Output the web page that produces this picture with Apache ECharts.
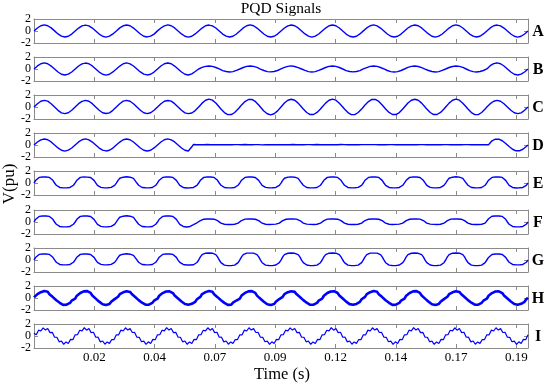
<!DOCTYPE html>
<html><head><meta charset="utf-8">
<script src="https://cdn.jsdelivr.net/npm/echarts@6/dist/echarts.min.js"></script>
<style>html,body{margin:0;padding:0;background:#fff}#c{width:550px;height:390px}</style>
</head><body><div id="c"></div><script>
const panelNames = ['A','B','C','D','E','F','G','H','I'];
const xTickLabels = ['0.02','0.04','0.07','0.09','0.12','0.14','0.17','0.19'];
const yTickValues = [-2, 0, 2];
const T_END = 0.2;
const X_TICK_STEP = 250 / 10240;

const seriesA = [
0,.28,.5,.69,.88,.96,1.02,.95,.88,.7,.52,.25,.02,-.27,-.49,-.72,-.86,-.98,-1,-.96,-.88,-.7,-.51,-.25,
.01,.27,.49,.72,.86,.98,.99,.98,.86,.72,.49,.27,-.01,-.25,-.51,-.7,-.88,-.96,-1.02,-.97,-.86,-.72,-.49,-.27,
0,.25,.52,.7,.87,.99,1,.96,.88,.71,.49,.27,0,-.27,-.5,-.71,-.88,-.97,-.99,-.98,-.86,-.7,-.52,-.25,
.02,.26,.5,.72,.86,.97,1.01,.97,.87,.7,.51,.25,-.01,-.26,-.49,-.72,-.87,-.96,-1.01,-.97,-.87,-.71,-.49,-.27,
0,.27,.49,.71,.88,.97,.99,.98,.86,.72,.5,.26,.01,-.25,-.51,-.7,-.86,-.98,-1,-.96,-.88,-.72,-.5,-.26,
-.01,.26,.51,.7,.87,.96,1.02,.97,.87,.71,.49,.27,0,-.27,-.5,-.71,-.88,-.97,-.99,-.98,-.87,-.7,-.51,-.25,
.01,.25,.5,.72,.86,.98,1,.96,.88,.7,.51,.25,.01,-.26,-.49,-.72,-.86,-.97,-1.01,-.97,-.86,-.71,-.5,-.27,
0,.27,.49,.71,.87,.97,.99,.98,.87,.72,.5,.26,-.01,-.25,-.51,-.7,-.87,-.96,-1,-.98,-.88,-.7,-.49,-.26,
.02,.26,.51,.7,.88,.96,1.01,.97,.86,.71,.49,.27,0,-.27,-.5,-.72,-.87,-.98,-.99,-.97,-.87,-.72,-.51,-.25,
0,.25,.5,.71,.86,.98,1,.96,.88,.7,.51,.26,.01,-.26,-.49,-.71,-.88,-.97,-1.02,-.96,-.86,-.71,-.5,-.27,
-.01,.27,.49,.72,.87,.97,1.01,.97,.87,.71,.5,.25,0,-.25,-.51,-.7,-.86,-.97,-1,-.98,-.88,-.7,-.49,-.26,
.01,.26,.51,.7,.88,.96,.99,.98,.86,.72,.49,.26,-.01,-.27,-.5,-.72,-.87,-.96,-1.01,-.97,-.87,-.71,-.5,-.25,
0];

const seriesB = [
0,.27,.51,.7,.88,.97,1.01,.96,.87,.72,.49,.26,.01,-.27,-.5,-.7,-.88,-.97,-1,-.97,-.86,-.72,-.5,-.25,
.01,.25,.5,.72,.86,.98,.99,.97,.88,.7,.51,.27,0,-.25,-.51,-.71,-.87,-.96,-1.01,-.98,-.87,-.7,-.49,-.27,
-.01,.26,.49,.71,.87,.96,1.02,.98,.86,.71,.5,.25,.01,-.26,-.49,-.72,-.86,-.98,-.99,-.96,-.88,-.71,-.51,-.26,
0,.27,.5,.7,.88,.97,1,.97,.87,.72,.49,.26,0,-.27,-.5,-.71,-.87,-.97,-1,-.93,-.8,-.62,-.42,-.2,
0,.15,.27,.37,.44,.49,.51,.48,.43,.36,.25,.12,.01,-.13,-.26,-.35,-.42,-.47,-.49,-.47,-.43,-.34,-.24,-.13,
0,.14,.25,.36,.44,.49,.5,.47,.43,.35,.26,.13,-.01,-.12,-.25,-.36,-.43,-.48,-.48,-.48,-.42,-.35,-.25,-.12,
.01,.13,.26,.35,.43,.48,.52,.48,.42,.35,.24,.13,0,-.13,-.24,-.35,-.43,-.47,-.5,-.47,-.43,-.36,-.24,-.13,
0,.12,.25,.36,.44,.47,.5,.49,.43,.34,.25,.14,0,-.14,-.26,-.34,-.42,-.48,-.48,-.48,-.42,-.35,-.26,-.12,
.01,.14,.24,.35,.43,.49,.51,.47,.44,.35,.25,.12,.01,-.13,-.25,-.36,-.43,-.47,-.49,-.47,-.44,-.34,-.25,-.13,
0,.13,.26,.34,.43,.48,.49,.48,.42,.36,.24,.13,-.01,-.12,-.25,-.35,-.42,-.48,-.5,-.48,-.43,-.35,-.24,-.12,
0,.13,.25,.36,.42,.48,.51,.48,.43,.34,.26,.12,0,-.13,-.26,-.34,-.43,-.47,-.49,-.47,-.42,-.36,-.25,-.13,
.01,.32,.56,.74,.89,.97,1.01,.97,.87,.71,.5,.26,0,-.26,-.5,-.71,-.87,-.97,-1,-.97,-.86,-.71,-.5,-.26,
0];

const seriesC = [
0,.3,.55,.77,.96,1.08,1.1,1.06,.97,.78,.54,.3,0,-.28,-.56,-.77,-.97,-1.06,-1.1,-1.08,-.95,-.79,-.55,-.28,
.01,.28,.56,.78,.95,1.07,1.11,1.08,.96,.77,.56,.28,-.01,-.3,-.54,-.78,-.95,-1.08,-1.09,-1.06,-.97,-.77,-.56,-.3,
0,.29,.54,.79,.97,1.06,1.1,1.07,.95,.79,.55,.29,.01,-.29,-.55,-.79,-.96,-1.07,-1.11,-1.07,-.96,-.78,-.54,-.29,
.01,.3,.55,.77,.96,1.08,1.09,1.07,.97,.78,.56,.28,0,-.28,-.55,-.78,-.97,-1.06,-1.1,-1.1,-1,-.84,-.6,-.32,
0,.33,.64,.92,1.12,1.27,1.3,1.25,1.14,.91,.66,.33,.01,-.34,-.64,-.93,-1.12,-1.27,-1.29,-1.26,-1.14,-.92,-.65,-.35,
0,.35,.65,.91,1.14,1.25,1.31,1.27,1.12,.93,.64,.34,-.01,-.33,-.66,-.91,-1.13,-1.25,-1.31,-1.27,-1.12,-.93,-.64,-.33,
.01,.34,.66,.93,1.13,1.26,1.29,1.26,1.13,.91,.65,.35,0,-.35,-.65,-.92,-1.14,-1.26,-1.3,-1.25,-1.13,-.91,-.66,-.34,
0,.33,.65,.92,1.12,1.27,1.31,1.25,1.14,.92,.64,.34,.01,-.34,-.64,-.93,-1.12,-1.27,-1.29,-1.27,-1.12,-.92,-.65,-.35,
-.01,.35,.64,.91,1.14,1.26,1.3,1.27,1.12,.93,.66,.33,0,-.33,-.66,-.91,-1.13,-1.25,-1.31,-1.26,-1.14,-.93,-.64,-.33,
.01,.34,.66,.92,1.13,1.25,1.29,1.26,1.13,.91,.65,.35,-.01,-.35,-.65,-.92,-1.14,-1.26,-1.3,-1.25,-1.13,-.91,-.66,-.34,
0,.33,.65,.93,1.12,1.27,1.31,1.26,1.14,.92,.64,.34,0,-.34,-.64,-.93,-1.12,-1.27,-1.3,-1.27,-1.12,-.92,-.65,-.35,
0,.3,.56,.79,.96,1.07,1.1,1.07,.96,.78,.55,.29,.01,-.29,-.55,-.78,-.96,-1.07,-1.1,-1.06,-.97,-.78,-.55,-.29,
0];

const seriesD = [
0,.27,.5,.71,.86,.98,1,.96,.88,.7,.51,.26,0,-.27,-.49,-.71,-.88,-.96,-1.01,-.97,-.86,-.72,-.5,-.25,
.01,.25,.51,.7,.87,.97,1.01,.98,.86,.72,.49,.27,-.01,-.25,-.51,-.7,-.86,-.98,-.99,-.96,-.88,-.7,-.51,-.27,
0,.26,.49,.72,.88,.96,.99,.97,.87,.71,.5,.25,.01,-.26,-.5,-.72,-.87,-.97,-1,-.98,-.87,-.71,-.49,-.26,
.01,.27,.5,.7,.87,.98,1.01,.96,.86,.72,.51,.26,0,-.27,-.5,-.7,-.88,-.96,-1,-.75,-.3,.08,.06,.04,
.07,.04,.06,.05,.03,.08,.05,.04,.07,.06,.03,.05,.06,.04,.08,.05,.03,.06,.07,.04,.05,.06,.03,.07,
.05,.03,.06,.08,.04,.05,.07,.03,.05,.06,.04,.07,.05,.02,.06,.05,.08,.04,.05,.06,.03,.05,.07,.04,
.06,.05,.03,.07,.05,.04,.06,.08,.03,.05,.06,.04,.07,.05,.03,.06,.04,.07,.05,.03,.06,.08,.04,.05,
.04,.07,.05,.03,.06,.05,.04,.06,.07,.03,.05,.08,.04,.06,.05,.03,.07,.05,.04,.06,.05,.03,.06,.07,
.05,.06,.04,.07,.03,.06,.05,.07,.04,.05,.08,.03,.06,.04,.05,.07,.03,.06,.05,.04,.07,.05,.06,.03,
.06,.04,.07,.05,.06,.03,.08,.05,.04,.06,.05,.07,.03,.05,.06,.04,.07,.05,.03,.06,.04,.05,.07,.06,
.04,.06,.05,.03,.07,.05,.04,.06,.08,.04,.05,.06,.03,.07,.05,.04,.06,.05,.07,.03,.05,.06,.04,.05,
.06,.04,.05,.7,.88,.97,1.01,.97,.87,.71,.5,.26,0,-.26,-.5,-.71,-.87,-.97,-1,-.97,-.87,-.71,-.5,-.26,
0];

const seriesE = [
0,.45,.78,.93,.98,1,1.01,1,.98,.93,.78,.45,0,-.38,-.62,-.74,-.79,-.81,-.82,-.81,-.79,-.74,-.62,-.38,
.02,.47,.77,.94,.99,1.02,1,.98,.99,.92,.79,.44,.01,-.4,-.63,-.73,-.8,-.82,-.81,-.8,-.8,-.73,-.61,-.39,
-.01,.44,.79,.92,.97,.99,1.03,1.01,.97,.94,.77,.46,-.01,-.37,-.61,-.75,-.78,-.8,-.83,-.82,-.78,-.75,-.63,-.37,
.01,.46,.78,.93,1,1,1.01,.99,.98,.93,.78,.44,.02,-.39,-.62,-.74,-.79,-.83,-.82,-.8,-.79,-.74,-.62,-.4,
0,.45,.77,.94,.98,1.01,1.01,1,.97,.93,.79,.45,0,-.38,-.63,-.74,-.8,-.81,-.82,-.81,-.78,-.74,-.62,-.38,
.01,.46,.78,.93,.99,1.01,1,.99,.99,.92,.78,.44,.01,-.39,-.62,-.73,-.79,-.82,-.81,-.8,-.8,-.74,-.61,-.39,
-.01,.44,.79,.92,.98,.99,1.02,1.01,.97,.94,.77,.46,-.01,-.37,-.61,-.75,-.78,-.81,-.83,-.82,-.79,-.75,-.63,-.37,
.01,.45,.78,.94,1,1,1.01,.99,.98,.93,.78,.45,.01,-.38,-.62,-.74,-.79,-.82,-.82,-.8,-.79,-.73,-.62,-.39,
0,.46,.77,.93,.98,1.01,1.02,1,.98,.93,.79,.44,0,-.39,-.63,-.74,-.8,-.81,-.82,-.81,-.78,-.74,-.62,-.38,
.02,.45,.78,.94,.99,1,1,.99,.99,.92,.78,.45,.01,-.38,-.62,-.73,-.79,-.82,-.81,-.81,-.8,-.74,-.61,-.39,
-.01,.44,.79,.92,.97,1.01,1.03,1.01,.98,.94,.77,.46,-.01,-.37,-.61,-.75,-.78,-.8,-.83,-.82,-.79,-.75,-.63,-.37,
.01,.46,.78,.93,1,1,1.01,.99,.98,.93,.78,.44,.02,-.39,-.62,-.74,-.79,-.83,-.82,-.8,-.79,-.74,-.62,-.4,
0];

const seriesF = [
.01,.46,.78,.93,.99,1,1.02,1,.98,.93,.78,.45,0,-.38,-.62,-.74,-.79,-.82,-.82,-.81,-.79,-.74,-.62,-.38,
0,.45,.77,.94,.98,1.01,1.01,.99,.99,.92,.79,.44,.01,-.39,-.63,-.73,-.8,-.81,-.82,-.8,-.8,-.73,-.61,-.39,
.02,.44,.79,.92,.97,1,1.03,1.01,.97,.94,.77,.46,-.01,-.37,-.61,-.75,-.78,-.8,-.83,-.82,-.78,-.75,-.63,-.37,
-.01,.46,.78,.93,1,1,1.01,.99,.98,.93,.78,.44,.02,-.39,-.62,-.74,-.79,-.83,-.82,-.74,-.6,-.44,-.28,-.13,
0,.23,.39,.47,.49,.5,.51,.5,.49,.47,.39,.23,0,-.19,-.31,-.37,-.4,-.41,-.41,-.41,-.4,-.37,-.31,-.19,
.01,.24,.38,.48,.48,.51,.5,.5,.5,.46,.4,.22,.01,-.2,-.3,-.38,-.39,-.42,-.41,-.4,-.41,-.36,-.32,-.18,
-.01,.22,.4,.46,.5,.49,.52,.51,.48,.48,.38,.24,-.01,-.18,-.32,-.36,-.41,-.4,-.42,-.42,-.39,-.38,-.3,-.2,
0,.23,.39,.48,.49,.5,.51,.49,.49,.47,.39,.23,.01,-.19,-.31,-.37,-.4,-.41,-.41,-.41,-.4,-.37,-.31,-.19,
.01,.24,.38,.47,.48,.51,.5,.51,.5,.46,.4,.22,0,-.2,-.3,-.38,-.39,-.42,-.41,-.4,-.41,-.36,-.32,-.18,
-.01,.22,.4,.46,.5,.49,.52,.5,.48,.48,.38,.24,-.01,-.18,-.32,-.36,-.41,-.4,-.42,-.42,-.39,-.38,-.3,-.2,
0,.23,.39,.48,.49,.5,.51,.5,.49,.47,.39,.23,0,-.19,-.31,-.37,-.4,-.41,-.41,-.41,-.4,-.37,-.31,-.19,
.01,.55,.82,.95,.99,1.01,1.02,1,.98,.93,.78,.45,0,-.38,-.62,-.74,-.79,-.82,-.82,-.81,-.79,-.74,-.62,-.38,
0];

const seriesG = [
0,.45,.78,.93,.98,1,1.01,1,.98,.93,.78,.45,.01,-.38,-.62,-.74,-.79,-.81,-.82,-.81,-.79,-.74,-.62,-.38,
.01,.46,.77,.94,.99,1.01,1.01,.99,.99,.92,.79,.44,0,-.39,-.63,-.73,-.8,-.82,-.82,-.8,-.8,-.73,-.61,-.39,
-.01,.44,.79,.92,.97,1,1.03,1.01,.97,.94,.77,.46,.01,-.37,-.61,-.75,-.78,-.8,-.83,-.82,-.78,-.75,-.63,-.37,
.01,.46,.78,.93,1,1,1.01,.99,.98,.93,.78,.44,-.01,-.39,-.62,-.74,-.79,-.83,-.82,-.84,-.82,-.79,-.68,-.42,
0,.52,.9,1.07,1.13,1.15,1.16,1.15,1.13,1.07,.9,.52,0,-.44,-.71,-.85,-.91,-.93,-.94,-.93,-.91,-.85,-.71,-.44,
.01,.53,.89,1.08,1.14,1.16,1.15,1.14,1.14,1.06,.91,.51,.01,-.45,-.7,-.86,-.92,-.92,-.93,-.94,-.9,-.84,-.72,-.43,
-.01,.51,.91,1.06,1.12,1.15,1.17,1.16,1.12,1.08,.89,.53,-.01,-.43,-.72,-.84,-.9,-.94,-.95,-.92,-.92,-.86,-.7,-.45,
0,.52,.9,1.07,1.13,1.14,1.16,1.15,1.13,1.07,.9,.52,0,-.44,-.71,-.85,-.91,-.93,-.94,-.93,-.91,-.85,-.71,-.44,
.01,.53,.89,1.08,1.14,1.16,1.15,1.14,1.14,1.06,.91,.51,.01,-.45,-.7,-.86,-.92,-.92,-.93,-.94,-.9,-.84,-.72,-.43,
-.01,.51,.91,1.06,1.12,1.15,1.17,1.16,1.12,1.08,.89,.53,-.01,-.43,-.72,-.84,-.9,-.94,-.95,-.92,-.92,-.86,-.7,-.45,
0,.52,.9,1.07,1.13,1.15,1.16,1.15,1.13,1.07,.9,.52,0,-.44,-.71,-.85,-.91,-.93,-.94,-.93,-.91,-.85,-.71,-.44,
0,.43,.75,.91,.97,.99,1,.99,.97,.92,.77,.44,0,-.38,-.62,-.74,-.79,-.81,-.82,-.81,-.79,-.74,-.62,-.38,
0];

const seriesH = [
.1,.19,.65,.64,.97,.9,1.15,.96,1.03,.64,.61,.15,.1,-.37,-.41,-.8,-.81,-1.14,-.97,-1.12,-.79,-.82,-.43,-.39,
-.1,.39,.47,.84,.79,1.1,.95,1.14,.83,.84,.41,.33,-.1,-.15,-.61,-.64,-1.03,-.96,-1.15,-.9,-.99,-.64,-.65,-.19,
.08,.21,.63,.66,.95,.92,1.13,.98,1.01,.66,.59,.17,.08,-.35,-.43,-.78,-.83,-1.12,-.99,-1.1,-.81,-.8,-.45,-.37,
-.12,.37,.49,.82,.81,1.08,.97,1.12,.85,.82,.43,.31,-.08,-.17,-.59,-.66,-1.01,-.98,-1.13,-.92,-.97,-.66,-.63,-.21,
.11,.18,.66,.63,.98,.89,1.16,.95,1.04,.63,.62,.14,.11,-.38,-.4,-.81,-.8,-1.15,-.96,-1.13,-.78,-.83,-.42,-.4,
-.09,.4,.46,.85,.78,1.11,.94,1.15,.82,.85,.4,.34,-.11,-.14,-.62,-.63,-1.04,-.95,-1.16,-.89,-1,-.63,-.66,-.18,
.09,.2,.64,.65,.96,.91,1.14,.97,1.02,.65,.6,.16,.09,-.36,-.42,-.79,-.82,-1.13,-.98,-1.11,-.8,-.81,-.44,-.38,
-.11,.38,.48,.83,.8,1.09,.96,1.13,.84,.83,.42,.32,-.09,-.16,-.6,-.65,-1.02,-.97,-1.14,-.91,-.98,-.65,-.64,-.2,
.1,.19,.65,.64,.97,.9,1.15,.96,1.03,.64,.61,.15,.1,-.37,-.41,-.8,-.81,-1.14,-.97,-1.12,-.79,-.82,-.43,-.39,
-.1,.39,.47,.84,.79,1.1,.95,1.14,.83,.84,.41,.33,-.1,-.15,-.61,-.64,-1.03,-.96,-1.15,-.9,-.99,-.64,-.65,-.19,
.08,.21,.63,.66,.95,.92,1.13,.98,1.01,.66,.59,.17,.08,-.35,-.43,-.78,-.83,-1.12,-.99,-1.1,-.81,-.8,-.45,-.37,
-.12,.37,.49,.82,.81,1.08,.97,1.12,.85,.82,.43,.31,-.08,-.17,-.59,-.66,-1.01,-.98,-1.13,-.92,-.97,-.66,-.63,-.21,
.05];

const seriesI = [
.45,.21,.97,.84,1.36,.98,1.24,.57,.61,-.2,-.21,-.97,-.84,-1.38,-.98,-1.24,-.57,-.61,
.2,.22,.96,.85,1.38,.97,1.25,.56,.62,-.21,-.2,-.98,-.83,-1.37,-.99,-1.23,-.58,-.6,
.21,.2,.98,.83,1.37,.99,1.23,.58,.6,-.19,-.22,-.96,-.85,-1.39,-.97,-1.25,-.56,-.62,
.19,.21,.97,.84,1.39,.98,1.24,.57,.61,-.2,-.21,-.97,-.84,-1.38,-.98,-1.24,-.57,-.61,
.2,.22,.96,.85,1.37,.97,1.25,.56,.62,-.21,-.2,-.98,-.83,-1.37,-.99,-1.23,-.58,-.6,
.21,.2,.98,.83,1.38,.99,1.23,.58,.6,-.19,-.22,-.96,-.85,-1.39,-.97,-1.25,-.56,-.62,
.19,.21,.97,.84,1.36,.98,1.24,.57,.61,-.2,-.21,-.97,-.84,-1.38,-.98,-1.24,-.57,-.61,
.2,.22,.96,.85,1.38,.97,1.25,.56,.62,-.21,-.2,-.98,-.83,-1.37,-.99,-1.23,-.58,-.6,
.21,.2,.98,.83,1.37,.99,1.23,.58,.6,-.19,-.22,-.96,-.85,-1.39,-.97,-1.25,-.56,-.62,
.19,.21,.97,.84,1.39,.98,1.24,.57,.61,-.2,-.21,-.97,-.84,-1.38,-.98,-1.24,-.57,-.61,
.2,.22,.96,.85,1.37,.97,1.25,.56,.62,-.21,-.2,-.98,-.83,-1.37,-.99,-1.23,-.58,-.6,
.21,.2,.98,.83,1.38,.99,1.23,.58,.6,-.19,-.22,-.96,-.85,-1.39,-.97,-1.25,-.56,-.62,
.22];

const allSeries = [seriesA, seriesB, seriesC, seriesD, seriesE, seriesF, seriesG, seriesH, seriesI];
const lineWidths = [1.4, 1.4, 1.4, 1.4, 1.4, 1.4, 1.4, 2.6, 1.2];

const SERIF = 'Liberation Serif';
const GRAY = '#8a8a8a';
const BLUE = '#0000ff';
const LEFT = 34, RIGHT = 22, H = 24;
const tops = panelNames.map((_, i) => 19 + Math.round(i * 38.1));

const grids = [], xAxes = [], yAxes = [], series = [], graphics = [];

function xLabel(v) {
  const k = Math.round(v / X_TICK_STEP);
  if (k >= 1 && k <= xTickLabels.length && Math.abs(v - k * X_TICK_STEP) < 1e-9) return xTickLabels[k - 1];
  return '';
}

panelNames.forEach((name, i) => {
  grids.push({ left: LEFT, right: RIGHT, top: tops[i], height: H, containLabel: false });
  const xBase = {
    gridIndex: i, type: 'value', min: 0, max: T_END, interval: X_TICK_STEP,
    axisLine: { show: true, onZero: false, lineStyle: { color: GRAY, width: 1 } },
    axisTick: { show: true, inside: true, length: 4, lineStyle: { color: GRAY } },
    splitLine: { show: false }
  };
  xAxes.push(Object.assign({}, xBase, {
    position: 'bottom',
    axisLabel: { show: i === panelNames.length - 1, formatter: xLabel, showMinLabel: false, showMaxLabel: false,
      fontFamily: SERIF, fontSize: 13, color: '#000', margin: 3 }
  }));
  xAxes.push(Object.assign({}, xBase, { position: 'top', axisLabel: { show: false } }));
  const yBase = {
    gridIndex: i, type: 'value', min: yTickValues[0], max: yTickValues[2], interval: yTickValues[1] - yTickValues[0],
    axisLine: { show: true, onZero: false, lineStyle: { color: GRAY, width: 1 } },
    axisTick: { show: true, inside: true, length: 4, lineStyle: { color: GRAY } },
    splitLine: { show: false }
  };
  const yLabelStyle = { fontFamily: SERIF, fontSize: 12, color: '#000', margin: 3,
    showMinLabel: true, showMaxLabel: true, hideOverlap: false };
  // main left axis: end labels (-2, 2)
  yAxes.push(Object.assign({}, yBase, {
    position: 'left',
    axisLabel: Object.assign({}, yLabelStyle, { formatter: v => (v === yTickValues[1] ? '' : String(v)) })
  }));
  // right axis: ticks only
  yAxes.push(Object.assign({}, yBase, { position: 'right', axisLabel: { show: false } }));
  // extra left axis carrying the middle label (0)
  yAxes.push(Object.assign({}, yBase, {
    position: 'left', axisLine: { show: false }, axisTick: { show: false },
    axisLabel: Object.assign({}, yLabelStyle, { formatter: v => (v === yTickValues[1] ? String(v) : '') })
  }));

  const ys = allSeries[i];
  const dt = T_END / (ys.length - 1);
  series.push({
    type: 'line', xAxisIndex: 2 * i, yAxisIndex: 3 * i,
    data: ys.map((y, k) => [k * dt, y]),
    showSymbol: false, symbol: 'none', smooth: false,
    lineStyle: { color: BLUE, width: lineWidths[i] }, silent: true
  });
  graphics.push({
    type: 'text', x: 538, y: tops[i] + H / 2 + 1,
    style: { text: name, font: 'bold 16px "Liberation Serif"', fill: '#000', textAlign: 'center', textVerticalAlign: 'middle' }
  });
});

graphics.push({ type: 'text', x: 281, y: 9,
  style: { text: 'PQD Signals', font: '15.5px "Liberation Serif"', fill: '#000', textAlign: 'center', textVerticalAlign: 'middle' } });
graphics.push({ type: 'text', x: 282, y: 375,
  style: { text: 'Time (s)', font: '16.5px "Liberation Serif"', fill: '#000', textAlign: 'center', textVerticalAlign: 'middle' } });
graphics.push({ type: 'text', x: 10, y: 184, rotation: Math.PI / 2,
  style: { text: 'V(pu)', font: '17px "Liberation Serif"', fill: '#000', textAlign: 'center', textVerticalAlign: 'middle' } });

const chart = echarts.init(document.getElementById('c'), null, { renderer: 'canvas' });
chart.setOption({
  animation: false,
  backgroundColor: '#ffffff',
  grid: grids, xAxis: xAxes, yAxis: yAxes, series: series, graphic: graphics
});
</script></body></html>
